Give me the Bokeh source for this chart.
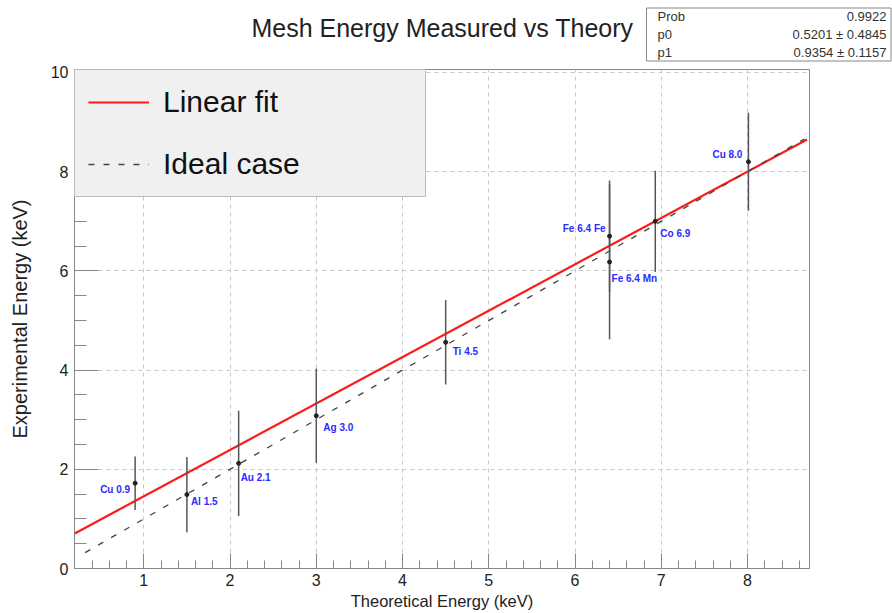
from bokeh.plotting import figure
from bokeh.layouts import column
from bokeh.models import (Range1d, Legend, LegendItem,
                          SingleIntervalTicker, ColumnDataSource)
from bokeh.core.properties import value
from bokeh.embed import file_html
from bokeh.resources import INLINE

# ---- data ----
title_text = "Mesh Energy Measured vs Theory"
names = ["Cu 0.9", "Al 1.5", "Au 2.1", "Ag 3.0", "Ti 4.5",
         "Fe 6.4 Fe", "Fe 6.4 Mn", "Co 6.9", "Cu 8.0"]
theory = [0.90, 1.50, 2.10, 3.00, 4.50, 6.40, 6.40, 6.93, 8.01]
measured = [1.72, 1.49, 2.12, 3.08, 4.56, 6.70, 6.18, 7.00, 8.20]
errors = [0.54, 0.76, 1.06, 0.95, 0.85, 1.12, 1.56, 1.02, 0.99]

fit_p0 = 0.5201
fit_p0_err = 0.4845
fit_p1 = 0.9354
fit_p1_err = 0.1157
fit_prob = 0.9922
fit_x = [0.20, 8.69]
ideal_x = [0.32, 8.66]

x_ticks = [1, 2, 3, 4, 5, 6, 7, 8]
y_ticks = [0, 2, 4, 6, 8, 10]

stat_names = ["Prob", "p0", "p1"]
stat_vals = [f"{fit_prob:.4f}", f"{fit_p0:.4f} \u00b1 {fit_p0_err:.4f}",
             f"{fit_p1:.4f} \u00b1 {fit_p1_err:.4f}"]

FONT = "Liberation Sans"
W = 892
TOP_H = 62
MAIN_H = 613 - TOP_H

# ---------------- header strip: title + fit statistics box ----------------
top = figure(width=W, height=TOP_H, output_backend="svg", toolbar_location=None,
             x_range=Range1d(0, W), y_range=Range1d(TOP_H, 0),
             x_axis_location=None, y_axis_location=None,
             min_border_left=0, min_border_right=0,
             min_border_top=0, min_border_bottom=0)
top.frame_align = False
top.title = None
top.grid.visible = False
top.outline_line_color = None
top.background_fill_color = "white"
top.border_fill_color = "white"

top.text(x=[442], y=[27], text=[title_text], text_align="center",
         text_baseline="middle", text_font=value(FONT),
         text_font_size="25px", text_color="#222222")

top.quad(left=[646], right=[890.5], top=[7.5], bottom=[60.5],
         fill_color="white", line_color="#888888", line_width=1)
row_y = [16, 34, 52]
top.text(x=[657] * 3, y=row_y, text=stat_names, text_align="left",
         text_baseline="middle", text_font=value(FONT),
         text_font_size="13px", text_color="#333333")
top.text(x=[886] * 3, y=row_y, text=stat_vals, text_align="right",
         text_baseline="middle", text_font=value(FONT),
         text_font_size="13px", text_color="#333333")

# ---------------- main plot ----------------
p = figure(width=W, height=MAIN_H, output_backend="svg", toolbar_location=None,
           x_range=Range1d(0.197, 8.718), y_range=Range1d(0, 10.06),
           min_border_left=74, min_border_top=69 - TOP_H, min_border_right=83,
           min_border_bottom=45,
           x_axis_label="Theoretical Energy (keV)",
           y_axis_label="Experimental Energy (keV)")
p.frame_align = False
p.title = None
p.background_fill_color = "white"
p.border_fill_color = "white"
p.outline_line_color = "#888888"
p.outline_line_width = 1

for ax in (p.xaxis[0], p.yaxis[0]):
    ax.axis_line_color = "#888888"
    ax.major_tick_line_color = "#888888"
    ax.minor_tick_line_color = "#888888"
    ax.major_tick_out = 0
    ax.minor_tick_out = 0
    ax.major_label_text_font = FONT
    ax.major_label_text_font_size = "16px"
    ax.major_label_text_color = "#222222"
    ax.axis_label_text_font = FONT
    ax.axis_label_text_font_style = "normal"
    ax.axis_label_text_color = "#222222"

xt = SingleIntervalTicker(interval=1, num_minor_ticks=5)
p.xaxis[0].ticker = xt
p.xaxis[0].major_tick_in = 15
p.xaxis[0].minor_tick_in = 8
p.xaxis[0].major_label_standoff = 5
p.xaxis[0].axis_label_standoff = 3
p.xaxis[0].axis_label_text_font_size = "16.5px"
p.xaxis[0].major_label_overrides = {t: str(t) for t in x_ticks}

yt = SingleIntervalTicker(interval=2, num_minor_ticks=4)
p.yaxis[0].ticker = yt
p.yaxis[0].major_tick_in = 24
p.yaxis[0].minor_tick_in = 12
p.yaxis[0].major_label_standoff = 6
p.yaxis[0].axis_label_standoff = 17
p.yaxis[0].axis_label_text_font_size = "20px"
p.yaxis[0].major_label_overrides = {t: str(t) for t in y_ticks}

p.xgrid.ticker = xt
p.ygrid.ticker = yt
for g in (p.xgrid[0], p.ygrid[0]):
    g.grid_line_color = "#c8c8c8"
    g.grid_line_dash = "4 4"
    g.grid_line_width = 1

# fit and ideal lines
fit_y = [fit_p0 + fit_p1 * x for x in fit_x]
r_fit = p.line(fit_x, fit_y, line_color="#ff1a1a", line_width=2.2)
r_ideal = p.line(ideal_x, ideal_x, line_color="#444444", line_width=1.3,
                 line_dash="6 9")

# error bars and points
src = ColumnDataSource(dict(
    x=theory, y=measured,
    lo=[m - e for m, e in zip(measured, errors)],
    hi=[m + e for m, e in zip(measured, errors)],
    name=names))
p.segment(x0="x", y0="lo", x1="x", y1="hi", source=src,
          line_color="#555555", line_width=1.5)
p.scatter(x="x", y="y", source=src, size=4, color="#222222")

# point labels
left_idx = [0, 5, 8]
label_dx = {0: -5, 1: 4, 2: 2, 3: 7, 4: 7, 5: -4, 6: 2, 7: 5, 8: -6}
label_dy = {0: 6, 1: 7, 2: 14, 3: 12, 4: 9, 5: -8, 6: 17, 7: 12, 8: -7}
for group, align in ((left_idx, "right"),
                     ([i for i in range(len(names)) if i not in left_idx], "left")):
    s = ColumnDataSource(dict(
        x=[theory[i] for i in group], y=[measured[i] for i in group],
        t=[names[i] for i in group],
        dx=[label_dx[i] for i in group], dy=[label_dy[i] for i in group]))
    p.text(x="x", y="y", text="t", source=s, x_offset="dx", y_offset="dy",
           text_align=align, text_baseline="middle",
           text_font=value(FONT), text_font_size="10px",
           text_font_style="bold", text_color="#2b2bff")

# legend
legend = Legend(items=[LegendItem(label="Linear fit", renderers=[r_fit]),
                       LegendItem(label="Ideal case", renderers=[r_ideal])],
                location="top_left")
legend.margin = 0
legend.padding = 13
legend.spacing = 24
legend.glyph_width = 61
legend.glyph_height = 38
legend.label_height = 38
legend.label_width = 249
legend.label_standoff = 14
legend.label_text_font = FONT
legend.label_text_font_size = "30px"
legend.label_text_color = "#111111"
legend.background_fill_color = "#f0f0f0"
legend.background_fill_alpha = 1.0
legend.border_line_color = "#888888"
legend.border_line_width = 1
p.add_layout(legend)

layout = column(top, p, spacing=0)
open("out.html", "w").write(file_html(layout, INLINE))
